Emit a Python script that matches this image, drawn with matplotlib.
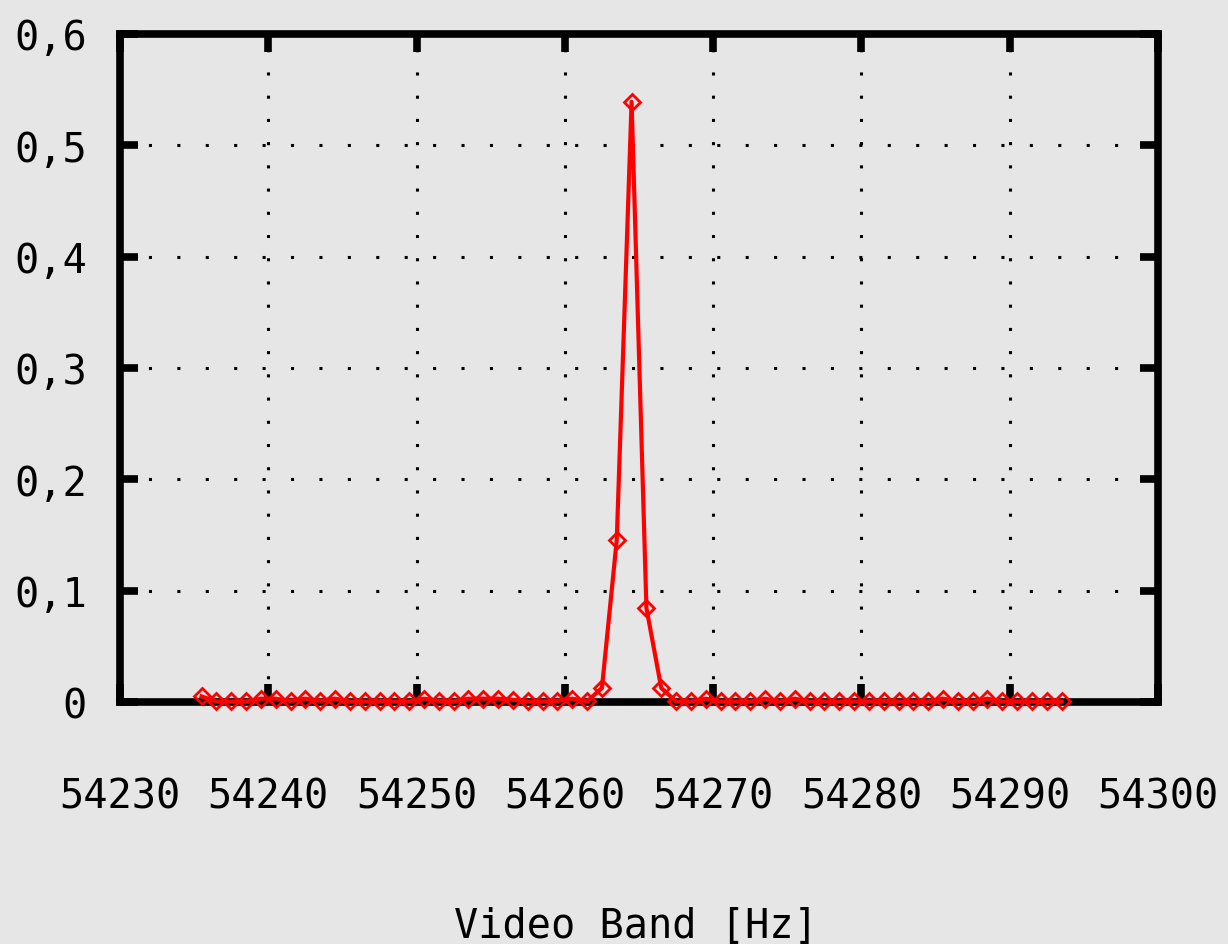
import matplotlib
matplotlib.use('Agg')
import matplotlib.pyplot as plt

# frequency bins of the video band spectrum
freq_start = 54235.5
n_bins = 59
freqs = [freq_start + k for k in range(n_bins)]
amps = [0.005, 0.0005, 0.0005, 0.0005, 0.003, 0.003, 0.001, 0.003, 0.001, 0.003,
        0.0005, 0.0005, 0.001, 0.0005, 0.0005, 0.003, 0.001, 0.0005, 0.003, 0.003,
        0.003, 0.002, 0.0005, 0.0005, 0.001, 0.003, 0.0005, 0.0126, 0.1456, 0.539,
        0.0845, 0.0126, 0.0005, 0.0005, 0.003, 0.0005, 0.0005, 0.0005, 0.003, 0.0005,
        0.003, 0.0005, 0.0005, 0.0005, 0.0005, 0.0005, 0.001, 0.0005, 0.0005, 0.0005,
        0.003, 0.0005, 0.0005, 0.003, 0.0005, 0.0005, 0.0005, 0.0005, 0.0005]

xticks = [54230, 54240, 54250, 54260, 54270, 54280, 54290, 54300]
yticks = [0, 0.1, 0.2, 0.3, 0.4, 0.5, 0.6]
ytick_labels = ['0', '0,1', '0,2', '0,3', '0,4', '0,5', '0,6']
xlabel = 'Video Band [Hz]'

bg = '#e6e6e6'
font = 'DejaVu Sans Mono'

fig = plt.figure(figsize=(12.28, 9.45), dpi=100, facecolor=bg)
ax = fig.add_axes([120 / 1228, 242 / 945, 1038 / 1228, 668 / 945])
ax.set_facecolor(bg)

ax.plot(freqs, amps, color='red', lw=3, marker='D', ms=8.5, mfc='none',
        mec='red', mew=2, zorder=3, clip_on=False)

ax.set_xlim(54230, 54300)
ax.set_ylim(0, 0.6)
ax.set_xticks(xticks)
ax.set_xticklabels([str(t) for t in xticks], fontfamily=font, fontsize=29)
ax.set_yticks(yticks)
ax.set_yticklabels(ytick_labels, fontfamily=font, fontsize=29)

ax.tick_params(axis='both', direction='in', length=13, width=5.5, color='black',
               top=True, right=True)
ax.tick_params(axis='x', pad=54)
ax.tick_params(axis='y', pad=24)

ax.xaxis.grid(True, color='black', lw=2.2, linestyle=(0, (1, 6.6)))
ax.yaxis.grid(True, color='black', lw=2.2, linestyle=(0, (1, 8.3)))
ax.set_axisbelow(True)

for s in ax.spines.values():
    s.set_linewidth(5.5)
    s.set_color('black')
    s.set_zorder(2.5)

fig.text(636 / 1228, 1 - 907 / 945, xlabel, ha='center', va='top',
         fontfamily=font, fontsize=29)

fig.savefig('out.png', dpi=100, facecolor=bg)
